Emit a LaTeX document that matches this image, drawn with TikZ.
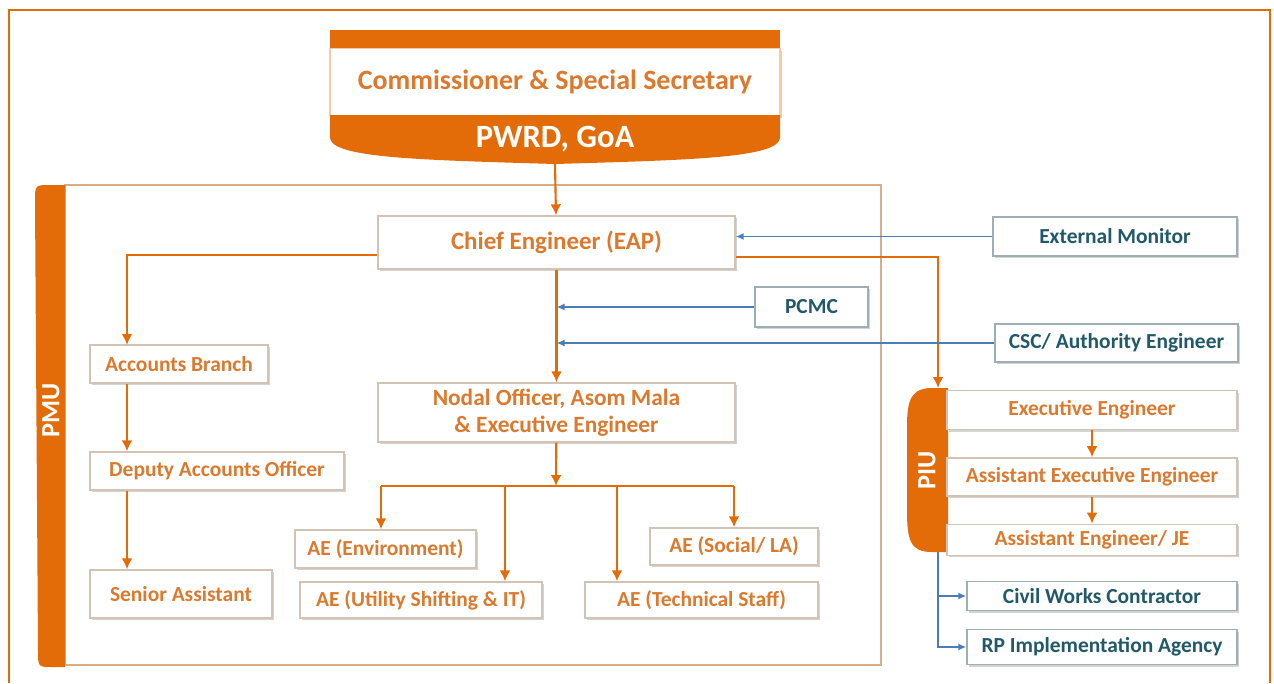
\documentclass[tikz,border=0pt]{standalone}
\usepackage{fontspec}
\setmainfont{Carlito}
\usetikzlibrary{arrows.meta,calc,positioning,shadows}
\definecolor{pwdorange}{HTML}{E36C09}
\definecolor{boxtext}{HTML}{DB7A2E}
\definecolor{boxedge}{HTML}{D2C3B4}
\definecolor{tealtext}{HTML}{215968}
\definecolor{tealedge}{HTML}{9DAFB5}
\definecolor{linkblue}{HTML}{4A7EBB}
\definecolor{frametan}{HTML}{D8AC84}
\tikzset{
orgbox/.style={
  rectangle,
  line width=0.8pt,
  inner sep=0pt,
  align=center,
  draw=boxedge,
  fill=white,
  text=boxtext,
  font=\bfseries\fontsize{12.2}{15}\selectfont,
  drop shadow={shadow xshift=1.2pt, shadow yshift=-1.2pt, opacity=0.35, fill=gray},
  }
}
\tikzset{
blubox/.style={
  orgbox,
  draw=tealedge,
  text=tealtext,
  }
}
\tikzset{
myline/.style={
  line width=1.2pt,
  draw=pwdorange,
  -{Latex[length=2.2mm, width=2.2mm]}
  }
}
\tikzset{
bluline/.style={
  line width=0.9pt,
  draw=linkblue,
  -{Latex[length=1.6mm, width=1.4mm]}
  }
}
\tikzset{
barlabel/.style={
  rotate=90,
  text=white,
  font=\bfseries\fontsize{15}{17}\selectfont,
  }
}

\begin{document}
\begin{tikzpicture}[x=0.02cm, y=-0.02cm]
    \useasboundingbox (0,0) rectangle (1274,683);
    \draw[pwdorange, line width=1.6pt] (9,683) -- (9,10) -- (1270,10) -- (1270,683);

    % head part
    \fill[pwdorange] (330,30) rectangle (780,48);
    \node[orgbox, draw=pwdorange!35, drop shadow={opacity=0}, minimum width=9cm, minimum height=1.34cm, font=\bfseries\fontsize{15.9}{18}\selectfont] (comm) at (555,82) {Commissioner \& Special Secretary};
    \fill[pwdorange] (330,115) -- (330,138) .. controls (332,158) and (420,160) .. (555,164) .. controls (690,160) and (778,158) .. (780,138) -- (780,115) -- cycle;
    \node[text=white, font=\bfseries\fontsize{18.5}{20}\selectfont] (pwrd) at (555,139) {PWRD, GoA};
    \coordinate (pwrd_bot) at (555,164);

    % pmu part
    \draw[frametan, line width=0.8pt] (65,185) rectangle (881,665);
    \fill[pwdorange] (65,185) -- (50,185) .. controls (35,185) .. (35,202) -- (38,650) .. controls (38,667) .. (52,667) -- (65,667) -- cycle;
    \node[barlabel] (pmu) at (51,410) {PMU};
    \node[orgbox, minimum width=7.14cm, minimum height=1.06cm, font=\bfseries\fontsize{14.2}{16}\selectfont] (chief) at (556.5,242.5) {Chief Engineer (EAP)};
    \node[orgbox, minimum width=7.14cm, minimum height=1.18cm, font=\bfseries\fontsize{13.3}{15.5}\selectfont] (nodal) at (556.5,412.5) {Nodal Officer, Asom Mala\\\& Executive Engineer};
    \node[orgbox, minimum width=3.56cm, minimum height=0.76cm] (acc_br) at (179,364) {Accounts Branch};
    \node[orgbox, minimum width=5.08cm, minimum height=0.76cm] (dep_acc) at (217,471) {Deputy Accounts Officer};
    \node[orgbox, minimum width=3.64cm, minimum height=0.96cm] (sen_ass) at (181,594) {Senior Assistant};
    \node[orgbox, minimum width=3.62cm, minimum height=0.76cm] (ae_env) at (385.5,549) {AE (Environment)};
    \node[orgbox, minimum width=4.84cm, minimum height=0.72cm] (ae_util) at (421,600) {AE (Utility Shifting \& IT)};
    \node[orgbox, minimum width=4.66cm, minimum height=0.72cm] (ae_tech) at (701.5,600) {AE (Technical Staff)};
    \node[orgbox, minimum width=3.36cm, minimum height=0.74cm] (ae_soc) at (734,546.5) {AE (Social/ LA)};

    % monitoring part
    \node[blubox, minimum width=4.88cm, minimum height=0.78cm] (ext_mon) at (1115,236.5) {External Monitor};
    \node[blubox, minimum width=2.26cm, minimum height=0.8cm] (pcmc) at (811.5,307) {PCMC};
    \node[blubox, minimum width=4.86cm, minimum height=0.76cm] (csc) at (1116.5,343) {CSC/ Authority Engineer};

    % piu part
    \fill[pwdorange] (948,388) -- (932,388) .. controls (908,388) and (907,405) .. (907,430) -- (907,510) .. controls (907,540) and (910,552) .. (932,552) -- (948,552) -- cycle;
    \node[barlabel] (piu) at (927,470) {PIU};
    \node[orgbox, minimum width=5.8cm, minimum height=0.78cm] (ee) at (1092,410) {Executive Engineer};
    \node[orgbox, minimum width=5.8cm, minimum height=0.76cm, below=0.54cm of ee] (aee) {Assistant Executive Engineer};
    \node[orgbox, minimum width=5.8cm, minimum height=0.62cm, below=0.54cm of aee] (ae_je) {Assistant Engineer/ JE};
    \node[blubox, minimum width=5.4cm, minimum height=0.58cm] (cwc) at (1102,596) {Civil Works Contractor};
    \node[blubox, minimum width=5.4cm, minimum height=0.7cm] (rp_agency) at (1102,647) {RP Implementation Agency};
    \coordinate (piu_top) at (938,388);
    \coordinate (piu_bot) at (938,552);

    % bus points
    \coordinate (acc_top) at (127,345);
    \coordinate (bus) at (556,486);
    \coordinate (bus_l) at (381,486);
    \coordinate (bus_m1) at (505,486);
    \coordinate (bus_m2) at (617,486);
    \coordinate (bus_r) at (734,486);

    % command edges
    \draw[myline] (pwrd_bot) -- (chief);
    \draw[myline] ([yshift=-7pt]chief.west) -| (acc_top);
    \draw[myline] ([yshift=-8pt]chief.east) -| (piu_top);
    \draw[myline] (chief) -- (nodal);

    % accounts edges
    \draw[myline] (acc_br.south -| acc_top) -- (dep_acc.north -| acc_top);
    \draw[myline] (dep_acc.south -| acc_top) -- (sen_ass.north -| acc_top);

    % nodal edges
    \draw[myline] (nodal) -- (bus);
    \draw[line width=1.2pt, pwdorange] (bus_l) -- (bus_r);
    \draw[myline] (bus_l) -- (bus_l |- ae_env.north);
    \draw[myline] (bus_m1) -- (bus_m1 |- ae_util.north);
    \draw[myline] (bus_m2) -- (bus_m2 |- ae_tech.north);
    \draw[myline] (bus_r) -- (bus_r |- ae_soc.north);

    % piu edges
    \draw[myline] (ee) -- (aee);
    \draw[myline] (aee) -- (ae_je);
    \draw[bluline] (piu_bot) |- (cwc.west);
    \draw[bluline] (piu_bot) |- (rp_agency.west);

    % monitoring edges
    \draw[bluline] (ext_mon.west) -- (ext_mon.west -| chief.east);
    \draw[bluline] (pcmc.west) -- (pcmc.west -| chief.south);
    \draw[bluline] (csc.west) -- (csc.west -| chief.south);
\end{tikzpicture}
\end{document}
